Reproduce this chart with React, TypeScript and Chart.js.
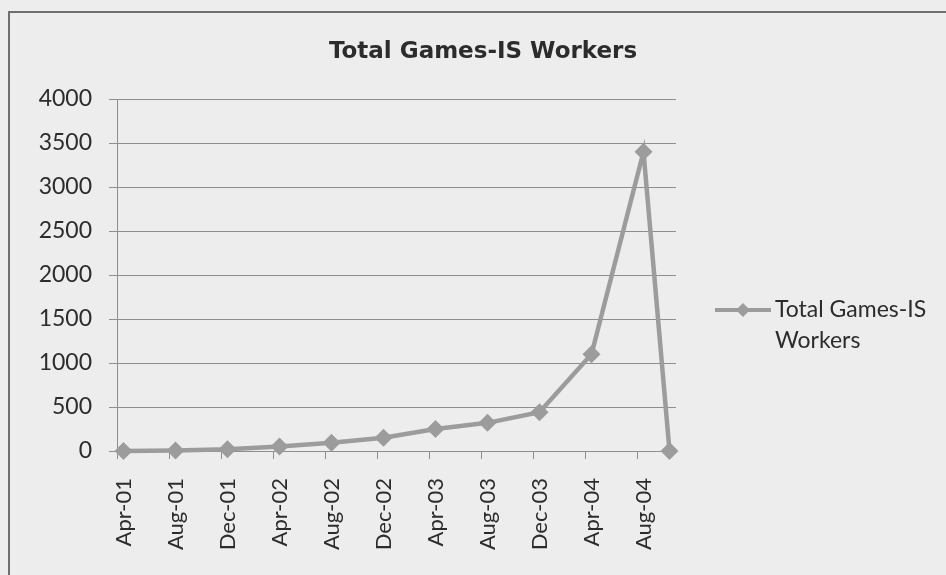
import React, { useEffect, useRef } from 'react';
import { Chart, registerables } from 'chart.js';

Chart.register(...registerables);

const chartTitle = 'Total Games-IS Workers';
const seriesName = 'Total Games-IS Workers';
const legendLines = ['Total Games-IS', 'Workers'];

// Monthly date axis (base unit: months), Apr-01 .. Oct-04
const monthLabels = [
  'Apr-01', 'May-01', 'Jun-01', 'Jul-01', 'Aug-01', 'Sep-01', 'Oct-01', 'Nov-01', 'Dec-01',
  'Jan-02', 'Feb-02', 'Mar-02', 'Apr-02', 'May-02', 'Jun-02', 'Jul-02', 'Aug-02', 'Sep-02', 'Oct-02', 'Nov-02', 'Dec-02',
  'Jan-03', 'Feb-03', 'Mar-03', 'Apr-03', 'May-03', 'Jun-03', 'Jul-03', 'Aug-03', 'Sep-03', 'Oct-03', 'Nov-03', 'Dec-03',
  'Jan-04', 'Feb-04', 'Mar-04', 'Apr-04', 'May-04', 'Jun-04', 'Jul-04', 'Aug-04', 'Sep-04', 'Oct-04',
];
const majorUnitMonths = 4;

const pointMonths = [
  'Apr-01', 'Aug-01', 'Dec-01', 'Apr-02', 'Aug-02', 'Dec-02',
  'Apr-03', 'Aug-03', 'Dec-03', 'Apr-04', 'Aug-04', 'Oct-04',
];
const workers = [0, 5, 20, 50, 95, 150, 250, 320, 440, 1100, 3400, 0];

const yMin = 0;
const yMax = 4000;
const yStep = 500;

const lineColor = '#9c9c9c';
const gridColor = '#8e8e8e';
const textColor = '#2c2c2c';

const overlayPlugin = {
  id: 'overlay',
  afterDraw(chart: any) {
    const ctx = chart.ctx as CanvasRenderingContext2D;
    const area = chart.chartArea;
    ctx.save();
    // Title
    ctx.fillStyle = textColor;
    ctx.font = 'bold 23px "DejaVu Sans"';
    ctx.textAlign = 'center';
    ctx.textBaseline = 'middle';
    ctx.fillText(chartTitle, 483, 52);

    // Legend
    const lx = area.right + 39;
    const ly = (area.top + area.bottom) / 2 + 35;
    ctx.strokeStyle = lineColor;
    ctx.lineWidth = 4;
    ctx.beginPath();
    ctx.moveTo(lx, ly);
    ctx.lineTo(lx + 56, ly);
    ctx.stroke();
    const cx = lx + 28;
    const r = 7;
    ctx.fillStyle = lineColor;
    ctx.beginPath();
    ctx.moveTo(cx, ly - r);
    ctx.lineTo(cx + r, ly);
    ctx.lineTo(cx, ly + r);
    ctx.lineTo(cx - r, ly);
    ctx.closePath();
    ctx.fill();

    ctx.fillStyle = textColor;
    ctx.font = '23px Lato';
    ctx.textAlign = 'left';
    ctx.textBaseline = 'middle';
    legendLines.forEach((t, i) => ctx.fillText(t, lx + 60, ly + i * 31));
    ctx.restore();
  },
};

export default function App() {
  const canvasRef = useRef<HTMLCanvasElement | null>(null);

  useEffect(() => {
    const canvas = canvasRef.current;
    if (!canvas) return;
    const chart = new Chart(canvas, {
      type: 'line',
      data: {
        labels: monthLabels,
        datasets: [
          {
            label: seriesName,
            data: pointMonths.map((m, i) => ({ x: m, y: workers[i] })) as any,
            borderColor: lineColor,
            backgroundColor: lineColor,
            borderWidth: 4.5,
            tension: 0,
            pointStyle: 'rectRot',
            pointRadius: 9,
            pointBackgroundColor: lineColor,
            pointBorderColor: lineColor,
            pointBorderWidth: 0,
            spanGaps: true,
            clip: false,
          } as any,
        ],
      },
      options: {
        responsive: false,
        animation: false,
        events: [],
        layout: { padding: { top: 99, right: 270, left: 0, bottom: 0 } },
        plugins: {
          legend: { display: false },
          title: { display: false },
          tooltip: { enabled: false },
        },
        scales: {
          x: {
            type: 'category',
            offset: true,
            afterFit: (scale: any) => {
              scale.height = 124;
            },
            grid: {
              offset: true,
              drawOnChartArea: false,
              drawTicks: true,
              tickLength: 8,
              lineWidth: 1,
              color: (ctx: any) => (ctx.index % majorUnitMonths === 0 ? gridColor : 'rgba(0,0,0,0)'),
            },
            border: { display: true, color: gridColor, width: 1 },
            ticks: {
              autoSkip: false,
              minRotation: 90,
              maxRotation: 90,
              padding: 19,
              color: textColor,
              font: { family: 'Lato', size: 22 },
              callback: (_v: any, idx: number) => (idx % majorUnitMonths === 0 ? monthLabels[idx] : ''),
            },
          },
          y: {
            min: yMin,
            max: yMax,
            afterFit: (scale: any) => {
              scale.width = 117;
            },
            grid: {
              color: gridColor,
              lineWidth: 1,
              tickLength: 8,
              drawTicks: true,
            },
            border: { display: true, color: gridColor, width: 1 },
            ticks: {
              stepSize: yStep,
              padding: 17,
              color: textColor,
              font: { family: 'Lato', size: 23 },
              callback: (v: any) => String(v),
            },
          },
        },
      },
      plugins: [overlayPlugin],
    });
    return () => chart.destroy();
  }, []);

  return (
    <div
      style={{
        position: 'absolute',
        left: 0,
        top: 0,
        width: 946,
        height: 575,
        background: '#ededed',
        overflow: 'hidden',
      }}
    >
      <div
        style={{
          position: 'absolute',
          left: 8,
          top: 11,
          width: 1000,
          height: 700,
          borderLeft: '2px solid #6f6f6f',
          borderTop: '2px solid #6f6f6f',
        }}
      />
      <canvas
        ref={canvasRef}
        width={946}
        height={575}
        style={{ position: 'absolute', left: 0, top: 0, width: 946, height: 575 }}
      />
    </div>
  );
}
